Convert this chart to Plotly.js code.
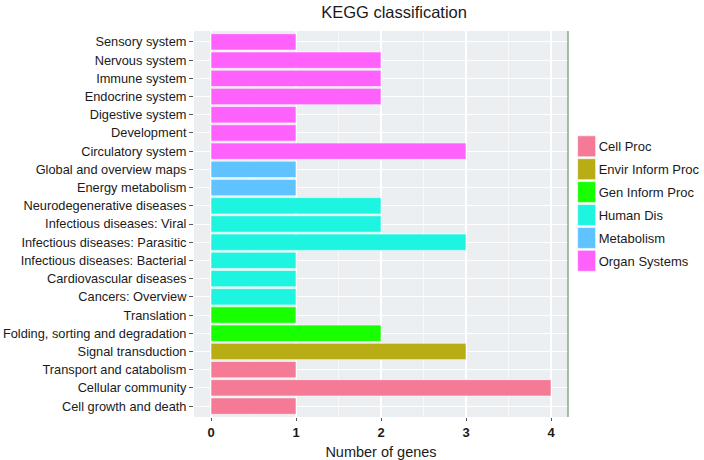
<!DOCTYPE html>
<html>
<head>
<meta charset="utf-8">
<script src="https://cdn.plot.ly/plotly-3.0.1.min.js"></script>
<style>
  html, body { margin: 0; padding: 0; background: #fff; }
  #chart { width: 704px; height: 460px; }
</style>
</head>
<body>
<div id="chart"></div>
<script>
// -- Data (bottom to top, as drawn) -------------------------------------------
const pathways = [
  'Cell growth and death', 'Cellular community', 'Transport and catabolism',
  'Signal transduction',
  'Folding, sorting and degradation', 'Translation',
  'Cancers: Overview', 'Cardiovascular diseases', 'Infectious diseases: Bacterial',
  'Infectious diseases: Parasitic', 'Infectious diseases: Viral', 'Neurodegenerative diseases',
  'Energy metabolism', 'Global and overview maps',
  'Circulatory system', 'Development', 'Digestive system', 'Endocrine system',
  'Immune system', 'Nervous system', 'Sensory system'
];
const geneCounts = [1, 4, 1, 3, 2, 1, 1, 1, 1, 3, 2, 2, 1, 1, 3, 1, 1, 2, 2, 2, 1];
const classes = [
  'Cell Proc', 'Cell Proc', 'Cell Proc',
  'Envir Inform Proc',
  'Gen Inform Proc', 'Gen Inform Proc',
  'Human Dis', 'Human Dis', 'Human Dis', 'Human Dis', 'Human Dis', 'Human Dis',
  'Metabolism', 'Metabolism',
  'Organ Systems', 'Organ Systems', 'Organ Systems', 'Organ Systems',
  'Organ Systems', 'Organ Systems', 'Organ Systems'
];
const classNames = ['Cell Proc', 'Envir Inform Proc', 'Gen Inform Proc', 'Human Dis', 'Metabolism', 'Organ Systems'];
const classColors = ['#F47A96', '#B8AD14', '#18FF00', '#1EF5E0', '#5EC3FF', '#FF62FC'];
const xTicks = [0, 1, 2, 3, 4];

// -- One trace per class so the legend lists them ------------------------------
const traces = classNames.map((cls, k) => {
  const ys = [], xs = [];
  classes.forEach((c, i) => {
    if (c === cls) { ys.push(pathways[i]); xs.push(geneCounts[i]); }
  });
  return {
    type: 'bar', orientation: 'h',
    x: xs, y: ys, name: cls,
    legendgroup: cls,
    width: 0.9,
    marker: { color: classColors[k], line: { color: 'rgba(255,255,255,0.6)', width: 1 } },
    hoverinfo: 'x+y'
  };
});

// minor vertical grid (ggplot style)
const minorGrid = [0.5, 1.5, 2.5, 3.5].map(v => ({
  type: 'line', xref: 'x', yref: 'paper', x0: v, x1: v, y0: 0, y1: 1,
  line: { color: '#ffffff', width: 0.6 }, layer: 'below'
}));

const layout = {
  width: 704, height: 460,
  paper_bgcolor: '#ffffff',
  plot_bgcolor: '#EBEFF2',
  font: { family: '"Liberation Sans", Arial, sans-serif', color: '#1a1a1a', size: 13 },
  margin: { l: 194, r: 136, t: 31, b: 43, autoexpand: false },
  title: {
    text: 'KEGG classification',
    font: { size: 16.5, color: '#1a1a1a' },
    x: 0.535, xref: 'paper', xanchor: 'center',
    y: 0.974, yref: 'container', yanchor: 'middle'
  },
  barmode: 'overlay',
  showlegend: true,
  legend: {
    x: 0.975, xanchor: 'left', y: 0.74, yanchor: 'top',
    font: { size: 13, color: '#1a1a1a' },
    traceorder: 'grouped',
    itemwidth: 30,
    tracegroupgap: 3,
    bgcolor: 'rgba(0,0,0,0)'
  },
  xaxis: {
    range: [-0.2, 4.2],
    tickvals: xTicks,
    ticktext: xTicks.map(v => '<b>' + v + '</b>'),
    tickfont: { size: 13, color: '#1a1a1a' },
    ticks: 'outside', ticklen: 3, tickcolor: '#555',
    showgrid: true, gridcolor: '#ffffff', gridwidth: 1.2,
    zeroline: false, showline: false,
    title: { text: 'Number of genes', font: { size: 14.5, color: '#1a1a1a' }, standoff: 8 }
  },
  yaxis: {
    type: 'category',
    categoryorder: 'array', categoryarray: pathways,
    range: [-0.6, pathways.length - 0.4],
    tickfont: { size: 12.8, color: '#1a1a1a' },
    ticks: 'outside', ticklen: 4, tickcolor: '#555',
    showgrid: true, gridcolor: '#ffffff', gridwidth: 1,
    zeroline: false, showline: false
  },
  shapes: minorGrid.concat([{
    type: 'line', xref: 'paper', yref: 'paper', x0: 1, x1: 1, y0: 0, y1: 1,
    line: { color: '#4a8a4a', width: 1 }
  }])
};

Plotly.newPlot('chart', traces, layout, { displayModeBar: false, staticPlot: true }).then(gd => {
  // bigger legend keys sitting close to their labels, like ggplot's
  gd.querySelectorAll('.legendpoints path').forEach(p => {
    p.setAttribute('d', 'M17,10.5H-1V-10.5H17Z');
  });
});
</script>
</body>
</html>
